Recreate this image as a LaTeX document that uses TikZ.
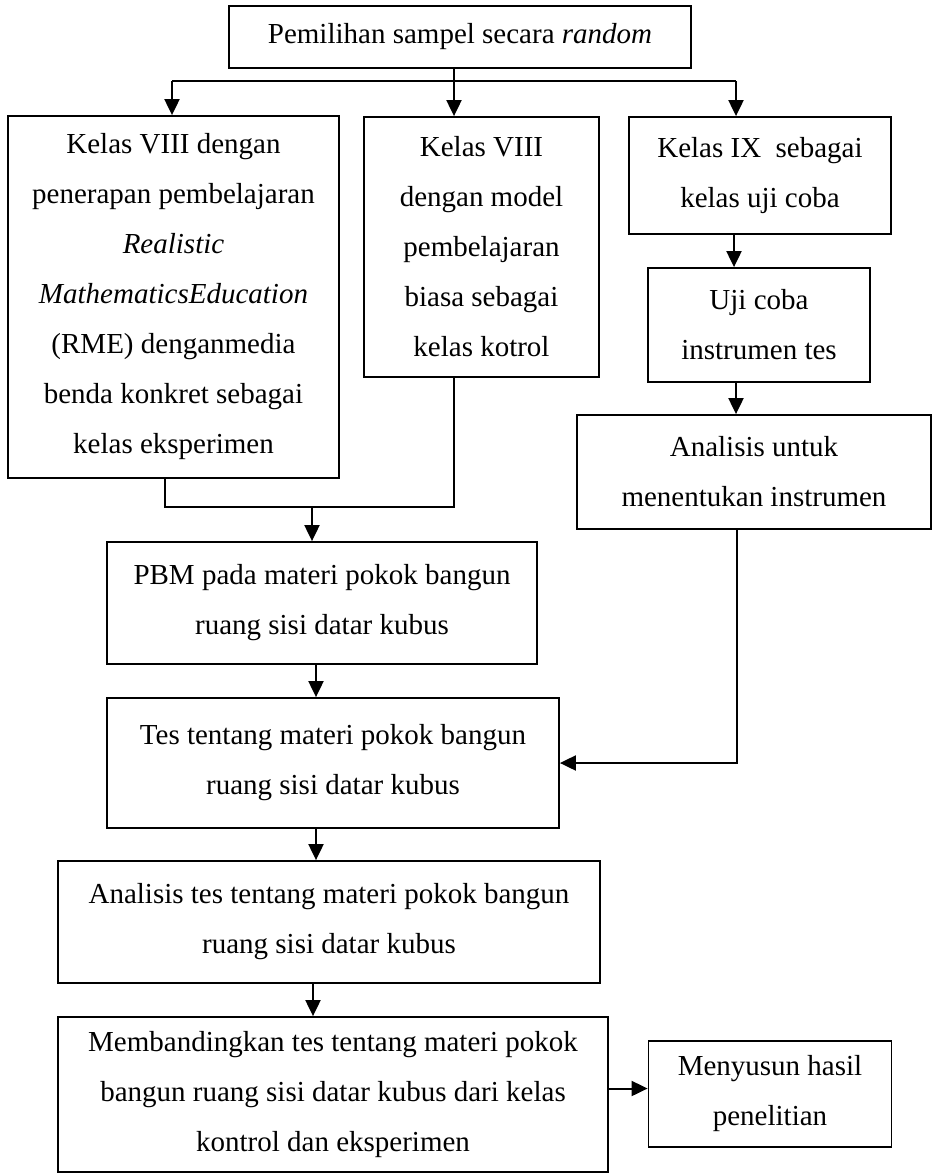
\documentclass[tikz,border=0pt]{standalone}
\usepackage{fontspec}
\setmainfont{Liberation Serif}
\usetikzlibrary{arrows.meta}

\tikzset{
  box/.style={draw, line width=1.8pt, align=center, inner sep=0pt,
              font=\fontsize{29}{50}\selectfont},
  arr/.style={-{Triangle[length=16pt,width=15pt]}, line width=2pt},
  conn/.style={line width=2pt},
}

\begin{document}
\begin{tikzpicture}[x=1pt,y=-1pt]
    \useasboundingbox (0,0) rectangle (932,1173);

    \node[box, minimum width=462pt, minimum height=62pt] (pilih) at (460,37)
        {Pemilihan sampel secara \textit{random}};
    \node[box, minimum width=331pt, minimum height=362pt] (eksp) at (173.5,297)
        {Kelas VIII dengan\\ penerapan pembelajaran\\ \textit{Realistic}\\
         \textit{MathematicsEducation}\\ (RME) denganmedia\\
         benda konkret sebagai\\ kelas eksperimen};
    \node[box, minimum width=235pt, minimum height=260pt] (kontrol) at (481.5,247)
        {Kelas VIII\\ dengan model\\ pembelajaran\\ biasa sebagai\\ kelas kotrol};
    \node[box, minimum width=262pt, minimum height=117pt] (ujikelas) at (760,175.5)
        {Kelas IX\ \ sebagai\\ kelas uji coba};
    \node[box, minimum width=222pt, minimum height=114pt] (ujicoba) at (759,325)
        {Uji coba\\ instrumen tes};
    \node[box, minimum width=354pt, minimum height=114pt] (analins) at (754,472)
        {Analisis untuk\\ menentukan instrumen};
    \node[box, minimum width=430pt, minimum height=122pt] (pbm) at (322,603)
        {PBM pada materi pokok bangun\\ ruang sisi datar kubus};
    \node[box, minimum width=452pt, minimum height=130pt] (tes) at (333,763)
        {Tes tentang materi pokok bangun\\ ruang sisi datar kubus};
    \node[box, minimum width=542pt, minimum height=122pt] (analtes) at (329,922)
        {Analisis tes tentang materi pokok bangun\\ ruang sisi datar kubus};
    \node[box, minimum width=550pt, minimum height=155pt] (banding) at (333,1094.5)
        {Membandingkan tes tentang materi pokok\\
         bangun ruang sisi datar kubus dari kelas\\ kontrol dan eksperimen};
    \node[box, minimum width=243pt, minimum height=106pt] (hasil) at (770,1094)
        {Menyusun hasil\\ penelitian};

    \coordinate (lsplit) at (172,81);
    \coordinate (split) at (454,81);
    \coordinate (rline) at (736,81);
    \coordinate (join) at (312,507);

    % percabangan dari pemilihan sampel
    \draw[conn] (split |- pilih.south) -- (split);
    \draw[conn] (lsplit) -- (rline);
    \draw[arr] (lsplit) -- (lsplit |- eksp.north);
    \draw[arr] (split) -- (split |- kontrol.north);
    \draw[arr] (rline) -- (rline |- ujikelas.north);

    % jalur uji coba
    \draw[arr] (734,0 |- ujikelas.south) -- (734,0 |- ujicoba.north);
    \draw[arr] (736,0 |- ujicoba.south) -- (736,0 |- analins.north);
    \draw[arr] (737,0 |- analins.south) |- (tes.east);

    % gabungan eksperimen dan kontrol
    \draw[conn] (165,0 |- eksp.south) |- (split |- join) -- (split |- kontrol.south);
    \draw[arr] (join) -- (join |- pbm.north);

    \draw[arr] (316,0 |- pbm.south) -- (316,0 |- tes.north);
    \draw[arr] (316,0 |- tes.south) -- (316,0 |- analtes.north);
    \draw[arr] (313,0 |- analtes.south) -- (313,0 |- banding.north);
    \draw[arr] ([yshift=6pt]banding.east) -- ([yshift=6pt]banding.east -| hasil.west);

\end{tikzpicture}
\end{document}
